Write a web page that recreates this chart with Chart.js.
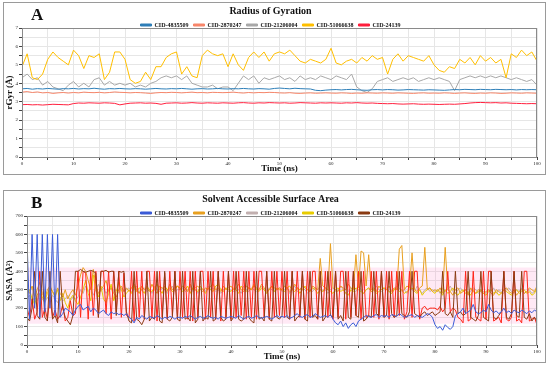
<!DOCTYPE html>
<html>
<head>
<meta charset="utf-8">
<script src="https://cdn.jsdelivr.net/npm/chart.js@4/dist/chart.umd.min.js"></script>
<style>
body { margin: 0; background: #fff; width: 550px; height: 369px; position: relative; overflow: hidden; font-family: "Liberation Serif", serif; }
.panel { position: absolute; left: 3px; width: 541px; height: 171px; border: 1px solid #9a9a9a; background: #fff; }
#pa { top: 2px; }
#pb { top: 190px; }
.tag { position: absolute; left: 27px; top: 2px; font-weight: bold; font-size: 17px; color: #111; z-index: 2; }
canvas { position: absolute; left: 0; top: 0; }
</style>
</head>
<body>
<div class="panel" id="pa"><div class="tag">A</div><canvas id="chartA" width="541" height="171"></canvas></div>
<div class="panel" id="pb"><div class="tag">B</div><canvas id="chartB" width="541" height="171"></canvas></div>
<script>
// ---- Panel A: radius of gyration (Å), one value per ns, 0..100
const rgBlue = [3.70,3.72,3.68,3.71,3.69,3.72,3.70,3.68,3.71,3.70,
  3.72,3.69,3.71,3.70,3.73,3.70,3.68,3.71,3.70,3.72,
  3.70,3.69,3.71,3.70,3.68,3.70,3.72,3.70,3.69,3.71,
  3.70,3.72,3.70,3.68,3.70,3.71,3.69,3.70,3.72,3.70,
  3.69,3.71,3.70,3.72,3.70,3.69,3.71,3.70,3.68,3.72,
  3.74,3.72,3.70,3.73,3.71,3.70,3.69,3.62,3.60,3.63,
  3.65,3.66,3.64,3.66,3.67,3.65,3.63,3.62,3.65,3.66,
  3.64,3.66,3.65,3.63,3.64,3.66,3.65,3.64,3.63,3.65,
  3.64,3.63,3.62,3.64,3.66,3.65,3.67,3.66,3.65,3.67,
  3.66,3.65,3.67,3.66,3.65,3.66,3.64,3.66,3.65,3.66,3.65];
const rgSalmon = [3.52,3.55,3.50,3.53,3.48,3.50,3.45,3.48,3.50,3.47,
  3.50,3.48,3.52,3.50,3.49,3.51,3.48,3.50,3.53,3.51,
  3.50,3.48,3.50,3.49,3.47,3.45,3.48,3.50,3.49,3.51,
  3.50,3.48,3.50,3.52,3.49,3.50,3.48,3.51,3.50,3.49,
  3.50,3.52,3.49,3.47,3.50,3.48,3.50,3.49,3.51,3.50,
  3.48,3.47,3.49,3.46,3.45,3.47,3.48,3.46,3.47,3.48,
  3.47,3.46,3.48,3.47,3.45,3.47,3.46,3.48,3.47,3.46,
  3.48,3.47,3.46,3.48,3.47,3.46,3.45,3.47,3.48,3.46,
  3.47,3.46,3.48,3.47,3.45,3.47,3.48,3.46,3.45,3.47,
  3.46,3.48,3.47,3.45,3.46,3.48,3.47,3.46,3.48,3.47,3.46];
const rgGray = [4.3,4.5,4.2,4.3,3.9,4.1,3.8,3.7,3.6,3.9,
  4.1,3.8,4.0,3.8,4.2,4.3,3.9,4.1,3.9,4.0,
  3.9,4.0,3.8,3.9,3.8,4.0,4.1,4.3,4.4,4.3,
  4.4,4.2,4.4,4.0,3.9,3.8,3.8,3.9,3.7,3.8,
  3.8,3.6,4.0,4.4,4.2,4.4,4.0,4.3,4.2,4.3,
  4.4,4.2,4.3,4.1,4.4,4.2,4.3,4.2,4.4,4.3,
  4.2,4.4,4.3,4.2,4.5,3.8,3.6,3.5,3.7,4.1,
  4.2,4.3,4.1,4.2,4.3,4.2,4.3,4.1,4.2,4.3,
  4.2,4.3,4.2,4.1,3.6,4.2,4.3,4.4,4.3,4.4,
  4.3,4.4,4.3,4.4,4.3,4.2,4.3,4.2,4.1,4.2,3.9];
const rgYellow = [4.9,5.6,4.3,4.2,4.5,5.3,5.7,5.4,5.2,5.0,
  5.8,5.5,4.8,5.5,5.4,5.6,4.2,4.6,5.7,5.7,
  5.3,4.2,4.0,4.1,4.6,4.2,4.9,4.9,5.4,5.6,
  5.7,4.5,4.9,4.4,4.3,5.5,5.8,5.6,5.5,5.6,
  4.9,5.6,5.0,4.7,5.4,5.7,5.4,5.7,5.2,5.6,
  5.7,5.6,5.8,5.5,5.2,5.1,5.3,5.2,5.1,5.3,
  5.9,5.1,5.0,5.2,5.3,5.1,5.4,5.2,5.5,5.3,
  5.4,4.5,5.3,5.6,5.2,5.5,5.4,5.3,5.2,5.5,
  5.0,4.7,4.6,4.9,4.8,5.3,5.1,5.4,5.0,5.5,
  5.2,5.4,5.1,5.3,4.3,5.6,5.4,5.8,5.5,5.7,5.2];
const rgRed = [2.84,2.85,2.83,2.84,2.82,2.84,2.86,2.85,2.84,2.83,
  2.90,2.93,2.92,2.94,2.93,2.92,2.94,2.93,2.91,2.83,
  2.88,2.92,2.93,2.94,2.92,2.93,2.91,2.86,2.92,2.93,
  2.94,2.92,2.93,2.95,2.93,2.92,2.94,2.93,2.92,2.94,
  2.93,2.92,2.94,2.95,2.93,2.92,2.94,2.93,2.95,2.94,
  2.93,2.94,2.92,2.93,2.95,2.94,2.93,2.92,2.94,2.93,
  2.94,2.93,2.92,2.94,2.93,2.95,2.93,2.92,2.93,2.91,
  2.90,2.89,2.90,2.88,2.87,2.88,2.89,2.87,2.86,2.87,
  2.86,2.85,2.86,2.87,2.86,2.88,2.90,2.93,2.95,2.96,
  2.95,2.94,2.95,2.93,2.94,2.92,2.91,2.90,2.89,2.90,2.89];

// ---- Panel B: SASA (Å²), one value per 0.5 ns, 0..100
const saBlue = [580,140,600,200,600,150,600,180,600,200,600,160,600,150,170,200,190,180,160,190,
  210,220,190,200,210,180,200,190,170,180,190,170,160,180,170,175,165,170,160,170,
  150,140,120,150,140,160,150,140,155,150,145,160,150,140,150,145,155,150,140,150,
  150,145,155,150,160,150,140,150,155,145,150,160,150,145,150,140,155,150,145,150,
  155,150,145,160,150,140,150,155,145,150,160,150,145,150,155,150,140,150,160,150,
  155,150,160,145,150,160,170,155,150,160,165,150,155,170,160,150,155,160,150,165,
  140,120,110,130,100,120,90,110,120,100,130,140,150,160,155,150,160,165,150,160,
  155,160,150,165,160,155,170,160,150,155,160,165,150,160,155,150,160,170,165,150,
  110,90,100,80,110,95,85,100,160,170,180,200,170,180,190,220,180,170,175,190,
  180,220,190,175,185,170,180,200,175,185,170,190,180,175,190,180,170,185,175,190,180];
const saOrange = [300,280,320,260,300,340,280,250,300,320,290,270,310,280,260,300,250,280,300,270,
  320,380,420,400,350,300,410,330,280,300,320,350,290,310,280,260,300,320,290,310,
  290,310,330,300,280,320,300,310,290,330,300,280,320,310,300,290,330,300,310,320,
  300,320,310,290,330,300,310,320,300,290,310,300,320,330,300,310,290,320,300,310,
  320,300,310,330,300,290,320,310,300,320,310,300,330,310,290,300,320,310,300,310,
  300,320,310,290,300,330,310,300,320,310,300,290,320,310,300,470,320,310,300,550,
  310,300,290,320,310,300,330,310,300,490,310,510,500,320,490,300,310,290,320,300,
  310,300,320,290,310,300,520,540,300,320,310,500,300,290,310,320,530,300,310,290,
  300,290,310,280,530,300,290,270,300,310,280,290,300,270,310,290,280,300,290,280,
  290,300,280,270,300,290,280,300,310,290,280,300,270,290,300,280,290,310,300,290,320];
const saGray = [250,270,230,260,240,280,250,230,260,240,270,250,230,260,240,250,270,240,260,250,
  260,300,280,320,290,310,270,300,330,290,310,280,300,320,290,300,280,310,290,300,
  310,290,300,320,280,300,310,290,300,280,320,300,290,310,300,280,300,320,290,300,
  300,310,290,300,320,290,300,280,310,300,290,320,300,310,290,300,280,300,310,290,
  300,290,310,300,280,320,300,290,310,300,290,300,320,300,280,310,300,290,300,310,
  290,300,310,280,300,320,290,300,310,300,280,300,290,310,300,320,290,300,280,300,
  310,290,300,320,300,280,290,310,300,290,320,300,280,300,310,290,300,320,300,290,
  300,310,290,280,300,320,310,290,300,280,310,300,290,320,300,280,300,310,290,300,
  290,300,280,310,290,300,320,290,280,300,310,290,300,280,290,310,300,280,300,290,
  280,300,290,310,280,300,290,280,300,310,290,280,300,290,310,280,290,300,280,290,300];
const saYellow = [280,300,250,220,270,300,260,240,280,310,290,260,300,240,280,230,200,250,270,240,
  220,260,300,350,280,240,380,300,260,320,250,230,280,330,240,290,340,300,260,280,
  300,280,320,290,310,300,280,320,300,290,310,330,300,280,320,300,310,290,300,320,
  310,290,300,320,280,310,300,290,320,300,280,310,300,290,320,330,300,290,310,300,
  290,310,300,280,320,300,290,310,300,330,300,290,310,300,280,300,320,290,310,300,
  300,290,310,320,300,290,310,280,300,320,300,290,310,300,280,300,290,310,300,290,
  280,300,310,290,300,280,270,300,290,310,300,290,280,300,310,290,300,280,290,300,
  310,300,290,280,300,310,290,300,280,290,300,310,290,280,300,270,290,300,310,290,
  280,300,290,270,300,280,290,310,280,270,290,300,280,290,270,300,280,290,300,280,
  270,290,300,280,290,270,280,300,290,280,270,290,300,280,290,300,280,290,270,280,310];
const saBrown = [150,130,200,400,160,140,400,150,130,400,140,160,120,400,200,150,130,110,160,400,
  400,410,400,395,400,405,400,390,150,400,400,405,395,400,400,160,400,395,400,180,
  130,120,400,140,130,110,140,400,130,150,140,400,130,120,400,140,130,150,400,140,
  130,400,140,150,130,400,120,140,400,130,150,140,400,130,140,400,150,130,140,400,
  130,150,400,140,130,140,400,150,130,120,400,140,150,130,400,140,130,400,150,140,
  160,400,150,140,400,130,150,160,400,140,130,400,150,160,140,400,130,150,400,160,
  150,400,140,160,130,400,150,140,400,160,150,400,130,140,160,150,400,170,160,400,
  150,160,400,170,150,160,400,170,160,150,180,400,170,160,150,170,180,160,170,180,
  160,170,180,400,170,160,180,150,400,170,180,160,170,400,150,140,130,160,400,150,
  140,130,400,150,140,160,180,400,150,140,170,400,160,150,400,150,140,170,130,150,130];
// bright red trace drawn along with the CID-24139 trace in the original figure
const saRed = [200,150,250,140,180,400,150,200,140,260,150,190,140,160,220,130,150,240,160,170,
  400,150,400,390,140,400,160,400,150,400,400,170,400,140,400,180,400,150,390,160,
  150,400,130,400,150,400,140,400,400,150,400,130,400,150,390,140,400,160,400,140,
  400,150,400,140,400,130,400,150,400,400,140,400,150,400,140,400,130,400,150,400,
  140,400,150,400,160,400,140,400,150,400,140,400,400,150,400,140,400,150,400,160,
  400,150,400,140,400,160,400,150,400,140,400,150,400,400,140,400,160,400,150,400,
  140,400,150,400,400,140,400,150,400,160,400,140,400,150,160,400,150,400,140,400,
  150,400,140,400,150,400,160,400,140,180,400,150,400,400,140,200,210,190,200,200,
  200,190,210,180,200,400,180,200,190,150,140,120,400,130,140,400,150,140,130,400,
  140,400,400,130,140,150,120,400,140,130,150,400,130,140,120,400,400,130,140,150,110];
// pink envelope behind the SASA traces
const bandTime = [0, 100];
const bandLow = [115, 115];
const bandHigh = [420, 420];

const serif = '"Liberation Serif", "Times New Roman", serif';

function series(step, values) {
  return values.map(function(v, i) { return { x: i * step, y: v }; });
}
function pairs(xs, ys) {
  return ys.map(function(v, i) { return { x: xs[i], y: v }; });
}

// thin frame round the plot area
const frame = {
  id: 'frame',
  afterDatasetsDraw(chart) {
    const a = chart.chartArea, ctx = chart.ctx;
    ctx.save();
    ctx.strokeStyle = '#8a8a8a';
    ctx.lineWidth = 1;
    ctx.strokeRect(a.left + 0.5, a.top + 0.5, a.right - a.left - 1, a.bottom - a.top);
    ctx.restore();
  }
};

// keep the legend row short so the plot starts right under it
const tightLegend = {
  id: 'tightLegend',
  beforeLayout(chart) {
    const lg = chart.legend;
    if (lg && !lg._tight) {
      const fit = lg.fit;
      lg.fit = function() { fit.call(this); this.height = 11; };
      lg._tight = true;
    }
  }
};

function line(label, color, data, order) {
  return { label: label, data: data, borderColor: color, backgroundColor: color,
    borderWidth: 1, pointRadius: 0, tension: 0, fill: false, order: order };
}

function makeOptions(title, yTitle, yMax, yStep, yWidth) {
  return {
    responsive: false,
    animation: false,
    layout: { padding: { left: 0, right: 8, top: 0, bottom: 0 } },
    plugins: {
      title: { display: true, text: title, color: '#111',
        font: { family: serif, size: 10, weight: 'bold' }, padding: { top: 2, bottom: 0 } },
      legend: {
        labels: {
          color: '#111', boxWidth: 11, boxHeight: 2, padding: 5,
          font: { family: serif, size: 6, weight: 'bold' },
          sort: function(a, b) { return a.datasetIndex - b.datasetIndex; },
          filter: function(item) { return item.text.indexOf('CID') === 0; }
        }
      },
      tooltip: { enabled: false }
    },
    scales: {
      x: {
        type: 'linear', min: 0, max: 100,
        ticks: { stepSize: 5, color: '#222', padding: 1, maxRotation: 0,
          font: { family: serif, size: 5 },
          callback: function(v) { return v % 10 === 0 ? v : ''; } },
        grid: { color: '#e6e6e6', tickLength: 3, tickColor: '#444' },
        border: { color: '#444' },
        title: { display: true, text: 'Time (ns)', color: '#111', padding: { top: 0, bottom: 0 },
          font: { family: serif, size: 9, weight: 'bold' } },
        afterFit: function(s) { s.height = 17; }
      },
      y: {
        min: 0, max: yMax,
        ticks: { stepSize: yStep / 2, color: '#222', padding: 1,
          font: { family: serif, size: 5 },
          callback: function(v) { return v % yStep === 0 ? v : ''; } },
        grid: { color: '#e6e6e6', tickLength: 3, tickColor: '#444' },
        border: { color: '#444' },
        title: { display: true, text: yTitle, color: '#111', padding: 0,
          font: { family: serif, size: 9, weight: 'bold' } },
        afterFit: function(s) { s.width = yWidth; }
      }
    }
  };
}

new Chart(document.getElementById('chartA'), {
  type: 'line',
  data: {
    datasets: [
      line('CID-4835509', '#2e7fb8', series(1, rgBlue), 2),
      line('CID-2870247', '#f7866a', series(1, rgSalmon), 3),
      line('CID-21206004', '#a8a8a8', series(1, rgGray), 4),
      line('CID-51066638', '#ffbf00', series(1, rgYellow), 1),
      line('CID-24139', '#ff1f3d', series(1, rgRed), 5)
    ]
  },
  options: makeOptions('Radius of Gyration', 'rGyr (Å)', 7, 1, 18),
  plugins: [frame, tightLegend]
});

const bandLowSet = line('low', 'rgba(0,0,0,0)', pairs(bandTime, bandLow), 20);
const bandHighSet = line('high', 'rgba(0,0,0,0)', pairs(bandTime, bandHigh), 19);
bandHighSet.fill = '-1';
bandHighSet.backgroundColor = 'rgba(255,120,190,0.16)';

new Chart(document.getElementById('chartB'), {
  type: 'line',
  data: {
    datasets: [
      line('CID-4835509', '#3b5bd6', series(0.5, saBlue), 1),
      line('CID-2870247', '#e8a020', series(0.5, saOrange), 6),
      line('CID-21206004', '#c2b0b0', series(0.5, saGray), 8),
      line('CID-51066638', '#e8cc00', series(0.5, saYellow), 7),
      line('CID-24139', '#8a3b12', series(0.5, saBrown), 4),
      line('red', '#ff2418', series(0.5, saRed), 5),
      bandLowSet,
      bandHighSet
    ]
  },
  options: makeOptions('Solvent Accessible Surface Area', 'SASA (Å²)', 700, 100, 23),
  plugins: [frame, tightLegend]
});
</script>
</body>
</html>
